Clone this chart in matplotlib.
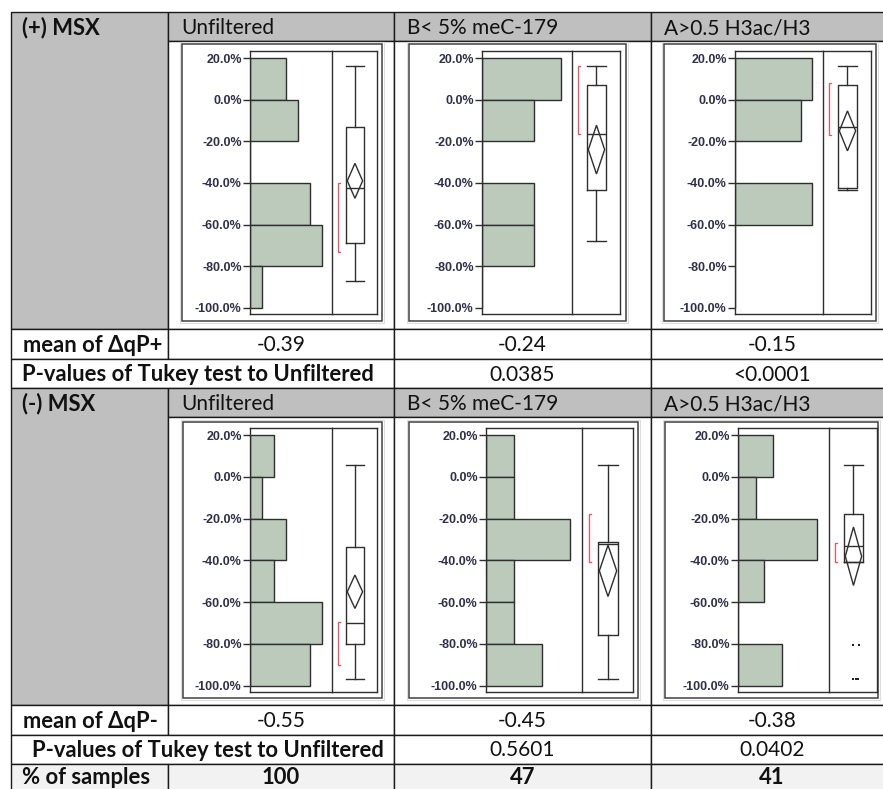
import numpy as np
import matplotlib.pyplot as plt
from matplotlib.patches import Rectangle, Polygon
from matplotlib.ticker import PercentFormatter

plt.rcParams['axes.unicode_minus'] = False

W, H = 883, 789
TABLE_FONT = ['Lato', 'DejaVu Sans']
TICK_FONT = ['Liberation Sans', 'DejaVu Sans']

# histogram bins of delta qP (fraction), top to bottom
bin_edges = [0.2, 0.0, -0.2, -0.4, -0.6, -0.8, -1.0]
groups = ['Unfiltered', 'B< 5% meC-179', 'A>0.5 H3ac/H3']

# (+) MSX
plus_counts = [
    [3, 4, 0, 5, 6, 1],
    [3, 2, 0, 2, 2, 0],
    [7, 6, 0, 7, 0, 0],
]
# whisker low, q1, median, q3, whisker high
plus_box = [
    [-0.870, -0.688, -0.424, -0.131, 0.162],
    [-0.678, -0.434, -0.165, 0.070, 0.162],
    [-0.434, -0.424, -0.131, 0.070, 0.162],
]
plus_means = [-0.39, -0.24, -0.15]
plus_diamond_half = [0.084, 0.117, 0.096]
plus_shortest_half = [(-0.734, -0.400), (-0.165, 0.162), (-0.170, 0.080)]
plus_outliers = [[], [], []]
plus_pvalues = ['0.0385', '<0.0001']

# (-) MSX
minus_counts = [
    [2, 1, 3, 2, 6, 5],
    [1, 1, 3, 1, 1, 2],
    [4, 2, 9, 3, 0, 5],
]
minus_box = [
    [-0.966, -0.798, -0.701, -0.335, 0.055],
    [-0.966, -0.759, -0.320, -0.311, 0.055],
    [-0.407, -0.407, -0.330, -0.180, 0.055],
]
minus_means = [-0.55, -0.45, -0.38]
minus_diamond_half = [0.080, 0.123, 0.140]
minus_shortest_half = [(-0.900, -0.697), (-0.407, -0.180), (-0.407, -0.315)]
minus_outliers = [[], [], [-0.807, -0.807, -0.966, -0.966, -0.966]]
minus_pvalues = ['0.5601', '0.0402']

pct_samples = [100, 47, 41]

# table grid in pixels
col_x = [11, 168, 394, 651, 893]
LINE = '#1a1a1a'
HEAD_GRAY = '#bfbfbf'
BAR_GREEN = '#bccabb'
EDGE = '#2e2e2e'

fig = plt.figure(figsize=(W / 100, H / 100), dpi=100)
tab = fig.add_axes([0, 0, 1, 1])
tab.set_xlim(0, W)
tab.set_ylim(H, 0)
tab.axis('off')


def cell(x0, y0, x1, y1, fc='white'):
    tab.add_patch(Rectangle((x0, y0), x1 - x0, y1 - y0, facecolor=fc,
                            edgecolor=LINE, lw=1.0, zorder=1))


def txt(x, y, s, ha='left', bold=False, size=15):
    if bold:
        size += 0.8
    tab.text(x, y, s, ha=ha, va='center', fontsize=size, family=TABLE_FONT,
             fontweight='bold' if bold else 'normal', color='#111111', zorder=3)


def px_rect(x0, y0, x1, y1):
    return [x0 / W, 1 - y1 / H, (x1 - x0) / W, (y1 - y0) / H]


def panel(outer, inner, div, counts, box, mean, half, bracket, outliers):
    ox0, oy0, ox1, oy1 = outer
    ix0, iy0, ix1, iy1 = inner
    tab.add_patch(Rectangle((ox0 - 2, oy0 - 2), ox1 - ox0 + 4, oy1 - oy0 + 4,
                            fill=False, edgecolor='#dddddd', lw=0.8, zorder=2))
    tab.add_patch(Rectangle((ox0, oy0), ox1 - ox0, oy1 - oy0, fill=False,
                            edgecolor='#404040', lw=1.1, zorder=2))
    ylim = (-1.03, 0.234)

    # histogram part
    ax = fig.add_axes(px_rect(ix0, iy0, div, iy1))
    ax.patch.set_visible(False)
    ax.barh(bin_edges[:-1], counts, height=np.diff(bin_edges), align='edge',
            color=BAR_GREEN, edgecolor=EDGE, lw=1.0)
    ax.set_xlim(0, max(counts) * 1.145)
    ax.set_ylim(*ylim)
    ax.set_xticks([])
    ax.set_yticks(bin_edges)
    ax.yaxis.set_major_formatter(PercentFormatter(1.0, decimals=1))
    ax.tick_params(axis='y', direction='out', length=5, width=1.0, color=EDGE,
                   pad=1, labelsize=9, labelcolor='#30304a')
    for lab in ax.get_yticklabels():
        lab.set_family(TICK_FONT)
        lab.set_fontweight('bold')
    for sp in ax.spines.values():
        sp.set_color(EDGE)
        sp.set_linewidth(1.0)

    # box plot part
    bx = fig.add_axes(px_rect(div, iy0, ix1, iy1))
    bx.patch.set_visible(False)
    cx, bw = 0.51, 0.38
    props = dict(color=EDGE, lw=1.0)
    bx.bxp([dict(whislo=box[0], q1=box[1], med=box[2], q3=box[3],
                 whishi=box[4], fliers=[])],
           positions=[cx], widths=bw, capwidths=bw, showfliers=False,
           boxprops=props, whiskerprops=props, capprops=props,
           medianprops=props, manage_ticks=False)
    dw = 0.17
    bx.add_patch(Polygon([(cx, mean + half), (cx + dw, mean), (cx, mean - half),
                          (cx - dw, mean)], closed=True, fill=False,
                         edgecolor=EDGE, lw=1.0))
    lo, hi = bracket
    bx.plot([0.17, 0.13, 0.13, 0.17], [hi, hi, lo, lo], color='#ff4a5a', lw=0.9)
    if outliers:
        offs = [0.0, 0.115, -0.01, 0.045, 0.09][:len(outliers)]
        bx.plot([cx + o for o in offs], outliers, 's', color='#222222',
                ms=2.0, mew=0)
    bx.set_xlim(0, 1)
    bx.set_ylim(*ylim)
    bx.set_xticks([])
    bx.set_yticks([])
    bx.spines['left'].set_visible(False)
    for sp in ['top', 'right', 'bottom']:
        bx.spines[sp].set_color(EDGE)
        bx.spines[sp].set_linewidth(1.0)


def block(top, label, counts, boxes, means, halves, brackets, outs, pvals,
          mean_label, outers, inners, divs, p_left):
    head_b, panel_b = top + 29, top + 317
    mean_b, p_b = panel_b + 30, panel_b + 59
    # merged label cell and group headers
    cell(col_x[0], top, col_x[1], panel_b, HEAD_GRAY)
    for i in range(3):
        cell(col_x[i + 1], top, col_x[i + 2], head_b, HEAD_GRAY)
        cell(col_x[i + 1], head_b, col_x[i + 2], panel_b)
    txt(22, top + 16, label, bold=True)
    for i, g in enumerate(groups):
        txt(col_x[i + 1] + 13, top + 16, g)
    for i in range(3):
        panel(outers[i], inners[i], divs[i], counts[i], boxes[i], means[i],
              halves[i], brackets[i], outs[i])
    # mean row
    cell(col_x[0], panel_b, col_x[1], mean_b)
    txt(23, (panel_b + mean_b) / 2 + 1, mean_label, bold=True)
    for i, m in enumerate(means):
        cell(col_x[i + 1], panel_b, col_x[i + 2], mean_b)
        txt((col_x[i + 1] + col_x[i + 2]) / 2, (panel_b + mean_b) / 2 + 1,
            f'{m:.2f}', ha='center')
    # Tukey test row
    cell(col_x[0], mean_b, col_x[2], p_b)
    txt(p_left, (mean_b + p_b) / 2 + 1, 'P-values of Tukey test to Unfiltered',
        bold=True)
    for i, p in enumerate(pvals):
        cell(col_x[i + 2], mean_b, col_x[i + 3], p_b)
        txt((col_x[i + 2] + col_x[i + 3]) / 2, (mean_b + p_b) / 2 + 1, p,
            ha='center')
    return p_b


block(12, '(+) MSX', plus_counts, plus_box, plus_means, plus_diamond_half,
      plus_shortest_half, plus_outliers, plus_pvalues, 'mean of \u0394qP+',
      outers=[(182, 44, 382, 321), (409, 44, 626, 321), (664, 44, 876, 321)],
      inners=[(250, 51, 377, 314), (482, 51, 620, 314), (735, 51, 871, 314)],
      divs=[332, 572, 823], p_left=22)

bottom = block(388, '(-) MSX', minus_counts, minus_box, minus_means,
               minus_diamond_half, minus_shortest_half, minus_outliers,
               minus_pvalues, 'mean of \u0394qP-',
               outers=[(183, 422, 382, 698), (409, 422, 638, 698),
                       (665, 422, 878, 698)],
               inners=[(250, 428, 377, 692), (486, 428, 633, 692),
                       (738, 428, 877, 692)],
               divs=[332, 582, 829], p_left=32)

# sample share row
row_b = bottom + 40
cell(col_x[0], bottom, col_x[1], row_b, '#f2f2f2')
txt(22, bottom + 14, '% of samples', bold=True)
for i, v in enumerate(pct_samples):
    cell(col_x[i + 1], bottom, col_x[i + 2], row_b, '#f2f2f2')
    txt((col_x[i + 1] + col_x[i + 2]) / 2, bottom + 14, str(v), ha='center',
        bold=True)

fig.savefig('out.png', dpi=100)
